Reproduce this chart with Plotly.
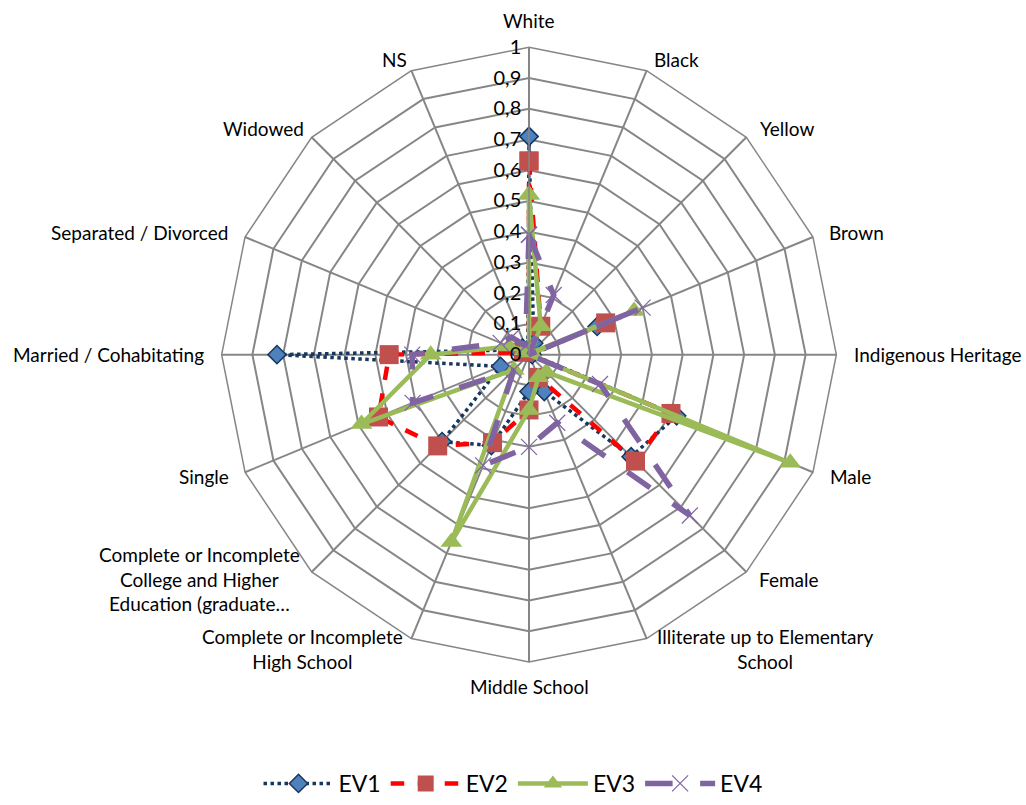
import plotly.graph_objects as go

# Profile categories, clockwise from the top of the radar
categories = [
    "White", "Black", "Yellow", "Brown", "Indigenous Heritage",
    "Male", "Female",
    "Illiterate up to Elementary<br>School", "Middle School",
    "Complete or Incomplete<br>High School",
    "Complete or Incomplete<br>College and Higher<br>Education (graduate…",
    "Single", "Married / Cohabitating", "Separated / Divorced", "Widowed", "NS",
]

ev1 = [0.71, 0.04, 0.01, 0.24, 0.01, 0.52, 0.47, 0.13, 0.12, 0.32, 0.40, 0.10, 0.82, 0.04, 0.03, 0.01]
ev2 = [0.63, 0.10, 0.00, 0.27, 0.00, 0.50, 0.49, 0.08, 0.18, 0.31, 0.42, 0.53, 0.455, 0.02, 0.00, 0.00]
ev3 = [0.52, 0.10, 0.01, 0.37, 0.00, 0.92, 0.08, 0.08, 0.18, 0.66, 0.07, 0.59, 0.32, 0.07, 0.02, 0.00]
ev4 = [0.39, 0.21, 0.00, 0.40, 0.00, 0.25, 0.74, 0.24, 0.30, 0.39, 0.07, 0.41, 0.38, 0.10, 0.08, 0.03]

radial_ticks = [0, 0.1, 0.2, 0.3, 0.4, 0.5, 0.6, 0.7, 0.8, 0.9, 1]

# Pixel centres of the category captions around the outer polygon
W, H = 1026, 805
label_px = [
    (529, 21), (676, 60), (787, 130), (856, 236), (938, 360),
    (850, 484), (789, 588), (765, 659), (529, 697), (302, 659),
    (199, 588), (204, 484), (108, 360), (139, 236), (263, 130), (394, 60),
]

FONT = "Lato, Open Sans, sans-serif"


def closed(vals):
    return list(vals) + [vals[0]]


theta = closed(categories)

fig = go.Figure()

fig.add_trace(go.Scatterpolar(
    r=closed(ev1), theta=theta, name="EV1", mode="lines+markers",
    line=dict(color="#17375E", width=3.5, dash="dot"),
    marker=dict(symbol="diamond", size=14, color="#4F81BD",
                line=dict(color="#17375E", width=1.5)),
))
fig.add_trace(go.Scatterpolar(
    r=closed(ev2), theta=theta, name="EV2", mode="lines+markers",
    line=dict(color="#FF0000", width=4.5, dash="dash"),
    marker=dict(symbol="square", size=19, color="#C0504D"),
))
fig.add_trace(go.Scatterpolar(
    r=closed(ev3), theta=theta, name="EV3", mode="lines+markers",
    line=dict(color="#9BBB59", width=4.5),
    marker=dict(symbol="triangle-up", size=19, color="#9BBB59"),
))
fig.add_trace(go.Scatterpolar(
    r=closed(ev4), theta=theta, name="EV4", mode="lines+markers",
    line=dict(color="#8064A2", width=5.5, dash="longdash"),
    marker=dict(symbol="x-thin-open", size=16, color="#8064A2",
                line=dict(color="#8064A2", width=1.2)),
))

annotations = [
    dict(x=px / W, y=1 - py / H, xref="paper", yref="paper",
         text=txt, showarrow=False, xanchor="center", yanchor="middle",
         align="center", font=dict(size=19, family=FONT, color="black"))
    for txt, (px, py) in zip(categories, label_px)
]

fig.update_layout(
    width=W, height=H,
    margin=dict(l=0, r=0, t=0, b=0),
    paper_bgcolor="white",
    separators=",.",
    font=dict(family=FONT, color="black"),
    showlegend=True,
    legend=dict(orientation="h", x=0.5, xanchor="center", y=0.012, yanchor="middle",
                font=dict(size=23, family=FONT), itemwidth=70,
                traceorder="normal"),
    annotations=annotations,
    polar=dict(
        domain=dict(x=[217 / W, 841 / W], y=[1 - 672 / H, 1 - 48 / H]),
        bgcolor="white",
        gridshape="linear",
        angularaxis=dict(
            type="category", rotation=90, direction="clockwise",
            showgrid=True, gridcolor="#868686", gridwidth=1.5,
            showline=True, linecolor="#868686", linewidth=1.5,
            ticks="", showticklabels=False,
        ),
        radialaxis=dict(
            range=[0, 1], tickvals=radial_ticks, angle=90, tickangle=90,
            showgrid=True, gridcolor="#868686", gridwidth=1.5,
            showline=True, linecolor="#868686", linewidth=1.5,
            ticks="", tickfont=dict(size=20, family=FONT, color="black"),
            side="counterclockwise",
        ),
    ),
)

fig.write_html("out.html")
